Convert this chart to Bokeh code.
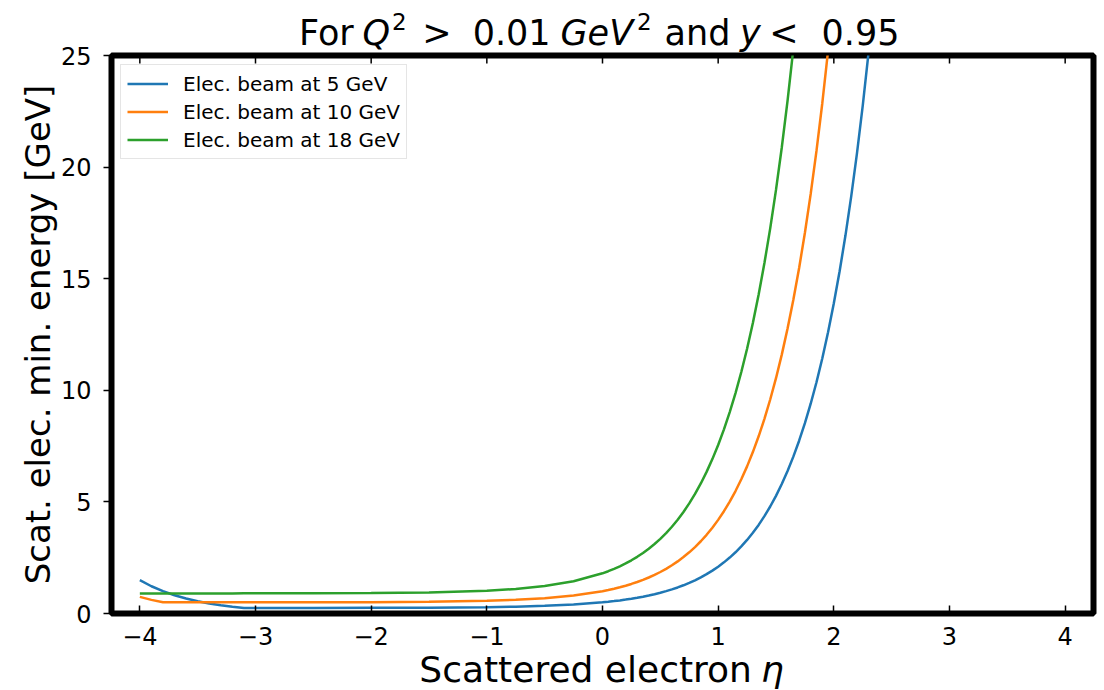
from bokeh.plotting import figure
from bokeh.layouts import column
from bokeh.models import (Range1d, Legend, LegendItem, Div,
                          CustomJSTickFormatter, FixedTicker)
from bokeh.embed import file_html
from bokeh.resources import INLINE

# ---------------- data ----------------
eta = [-4.0, -3.9, -3.8, -3.7, -3.6, -3.5, -3.4, -3.3, -3.2, -3.1, -3.0,
       -2.5, -2.0, -1.5, -1.0, -0.75, -0.5, -0.25,
       0.0, 0.05, 0.1, 0.15, 0.2, 0.25, 0.3, 0.35, 0.4, 0.45,
       0.5, 0.55, 0.6, 0.65, 0.7, 0.75, 0.8, 0.85, 0.9, 0.95,
       1.0, 1.05, 1.1, 1.15, 1.2, 1.25, 1.3, 1.35, 1.4, 1.45,
       1.5, 1.55, 1.6, 1.65, 1.7, 1.75, 1.8, 1.85, 1.9, 1.95,
       2.0, 2.05, 2.1, 2.15, 2.2, 2.25, 2.3, 2.35, 2.4]

e_min_5gev = [1.491, 1.221, 1.000, 0.819, 0.670, 0.549, 0.449, 0.368, 0.301, 0.2505, 0.2506,
              0.2517, 0.2546, 0.2624, 0.2838, 0.3058, 0.3420, 0.4016,
              0.5, 0.5263, 0.5554, 0.5875, 0.6230, 0.6622, 0.7055, 0.7534, 0.8064, 0.8649,
              0.9296, 1.0010, 1.0800, 1.1673, 1.2638, 1.3704, 1.4883, 1.6185, 1.7624, 1.9215,
              2.0973, 2.2915, 2.5063, 2.7435, 3.0058, 3.2956, 3.6159, 3.9699, 4.3612, 4.7935,
              5.2714, 5.7995, 6.3831, 7.0282, 7.7410, 8.5289, 9.3996, 10.3618, 11.4253, 12.6006,
              13.8996, 15.3351, 16.9216, 18.6749, 20.6127, 22.7543, 25.1211, 27.7368, 30.6276]

e_min_10gev = [0.7455, 0.6104, 0.5003, 0.5003, 0.5004, 0.5005, 0.5006, 0.5007, 0.5008, 0.5010, 0.5012,
               0.5034, 0.5092, 0.5249, 0.5677, 0.6116, 0.6840, 0.8033,
               1.0, 1.0526, 1.1107, 1.1749, 1.2459, 1.3244, 1.4111, 1.5069, 1.6128, 1.7298,
               1.8592, 2.0021, 2.1601, 2.3347, 2.5276, 2.7408, 2.9765, 3.2370, 3.5248, 3.8429,
               4.1946, 4.5831, 5.0125, 5.4871, 6.0116, 6.5912, 7.2319, 7.9399, 8.7223, 9.5871,
               10.5428, 11.5990, 12.7663, 14.0563, 15.4821, 17.0577, 18.7991, 20.7237, 22.8506, 25.2012,
               27.7991, 30.6701, 33.8432, 37.3499, 41.2255, 45.5086, 50.2422, 55.4736, 61.2552]

e_min_18gev = [0.9003, 0.9004, 0.9005, 0.9006, 0.9007, 0.9008, 0.9010, 0.9012, 0.9015, 0.9018, 0.9022,
               0.9061, 0.9165, 0.9448, 1.0218, 1.1008, 1.2311, 1.4459,
               1.8, 1.8947, 1.9993, 2.1149, 2.2426, 2.3838, 2.5399, 2.7124, 2.9030, 3.1136,
               3.3465, 3.6038, 3.8881, 4.2024, 4.5497, 4.9335, 5.3577, 5.8266, 6.3446, 6.9173,
               7.5502, 8.2496, 9.0225, 9.8768, 10.8209, 11.8642, 13.0173, 14.2918, 15.7001, 17.2567,
               18.9770, 20.8782, 22.9793, 25.3014, 27.8677, 30.7039, 33.8384, 37.3026, 41.1311, 45.3622,
               50.0384, 55.2063, 60.9177, 67.2298, 74.2058, 81.9154, 90.4359, 99.8525, 110.2594]

series_labels = ["Elec. beam at 5 GeV", "Elec. beam at 10 GeV", "Elec. beam at 18 GeV"]
series_colors = ["#1f77b4", "#ff7f0e", "#2ca02c"]

x_ticks = [-4, -3, -2, -1, 0, 1, 2, 3, 4]
y_ticks = [0, 5, 10, 15, 20, 25]
x_min, x_max = -4.245, 4.245
y_min, y_max = 0, 25

FONT = "DejaVu Sans"
W = 1104

# ---------------- helpers for mixed-style text rows ----------------
def piece(txt, left, baseline, size, italic=False):
    # line-height == font-size: DejaVu baseline sits 0.846 em below the box top
    top = baseline - 0.846 * size
    style = "italic" if italic else "normal"
    return ('<span style="position:absolute;left:%.1fpx;top:%.1fpx;font-size:%dpx;'
            'line-height:%dpx;font-style:%s;white-space:pre;">%s</span>'
            % (left, top, size, size, style, txt))


def text_row(height, pieces):
    inner = "".join(piece(*pc) for pc in pieces)
    html = ('<div style="position:relative;width:%dpx;height:%dpx;overflow:visible;'
            'font-family:\'DejaVu Sans\';color:#000000;">%s</div>' % (W, height, inner))
    return Div(text=html, width=W, height=height, margin=(0, 0, 0, 0),
               styles={"overflow": "visible"})


# ---------------- title row ----------------
TH = 40
title_row = text_row(TH, [
    ("For", 299.0, 46, 35),
    ("Q", 362.5, 46, 35, True),
    ("2", 392.0, 30.7, 23),
    ("&gt;", 422.3, 46, 35),
    ("0.01", 472.7, 46, 35),
    ("GeV", 560.5, 46, 35, True),
    ("2", 637.0, 30.7, 23),
    ("and", 664.5, 46, 35),
    ("y", 740.0, 46, 35, True),
    ("&lt;", 769.3, 46, 35),
    ("0.95", 821.5, 46, 35),
])

# ---------------- main plot ----------------
TOP_B = 55 - TH          # frame top sits at y = 55 on the page
BOT_B = 44
MH = TOP_B + 558 + BOT_B
p = figure(width=W, height=MH, output_backend="svg", toolbar_location=None,
           x_range=Range1d(x_min, x_max), y_range=Range1d(y_min, y_max),
           min_border_left=111, min_border_right=11,
           min_border_top=TOP_B, min_border_bottom=BOT_B)

p.background_fill_color = "white"
p.border_fill_color = None
p.outline_line_color = "black"
p.outline_line_width = 6
p.xgrid.visible = False
p.ygrid.visible = False

minus_fmt = CustomJSTickFormatter(
    code="return tick < 0 ? '\\u2212' + Math.abs(tick) : String(tick);")

xa = p.xaxis[0]
xa.ticker = FixedTicker(ticks=x_ticks)
xa.formatter = minus_fmt
xa.axis_line_color = None
xa.major_tick_in = 8
xa.major_tick_out = 0
xa.major_tick_line_color = "black"
xa.major_tick_line_width = 1.5
xa.minor_tick_line_color = None
xa.major_label_text_font = FONT
xa.major_label_text_font_size = "24px"
xa.major_label_text_color = "black"
xa.major_label_standoff = 13

ya = p.yaxis[0]
ya.ticker = FixedTicker(ticks=y_ticks)
ya.axis_line_color = None
ya.major_tick_in = 0
ya.major_tick_out = 8
ya.major_tick_line_color = "black"
ya.major_tick_line_width = 1.5
ya.minor_tick_line_color = None
ya.major_label_text_font = FONT
ya.major_label_text_font_size = "24px"
ya.major_label_text_color = "black"
ya.major_label_standoff = 12
ya.axis_label = "Scat. elec. min. energy [GeV]"
ya.axis_label_text_font = FONT
ya.axis_label_text_font_size = "34px"
ya.axis_label_text_font_style = "normal"
ya.axis_label_text_color = "black"
ya.axis_label_standoff = 0

# inward ticks along the top spine
p.ray(x=x_ticks, y=[y_max] * len(x_ticks), length=8, length_units="screen",
      angle=-1.5707963, line_color="black", line_width=1.5)

# ---------------- curves ----------------
items = []
for vals, lab, col in zip([e_min_5gev, e_min_10gev, e_min_18gev], series_labels, series_colors):
    r = p.line(eta, vals, line_color=col, line_width=2.5)
    items.append(LegendItem(label=lab, renderers=[r]))

legend = Legend(items=items, location="top_left")
legend.margin = 9
legend.padding = 6
legend.spacing = 3
legend.glyph_width = 41
legend.glyph_height = 25
legend.label_height = 25
legend.label_standoff = 15
legend.label_text_font = FONT
legend.label_text_font_size = "20px"
legend.label_text_color = "black"
legend.border_line_color = "#cccccc"
legend.border_line_width = 1
legend.background_fill_color = "white"
legend.background_fill_alpha = 0.8
p.add_layout(legend)

# ---------------- x-axis label row ----------------
XH = 690 - TH - MH
xlabel_row = text_row(XH, [
    ("Scattered electron", 419.3, 682 - TH - MH, 36),
    ("\u03b7", 761.0, 682 - TH - MH, 36, True),
])

layout = column(title_row, p, xlabel_row, spacing=0)
open("out.html", "w").write(file_html(layout, INLINE))
